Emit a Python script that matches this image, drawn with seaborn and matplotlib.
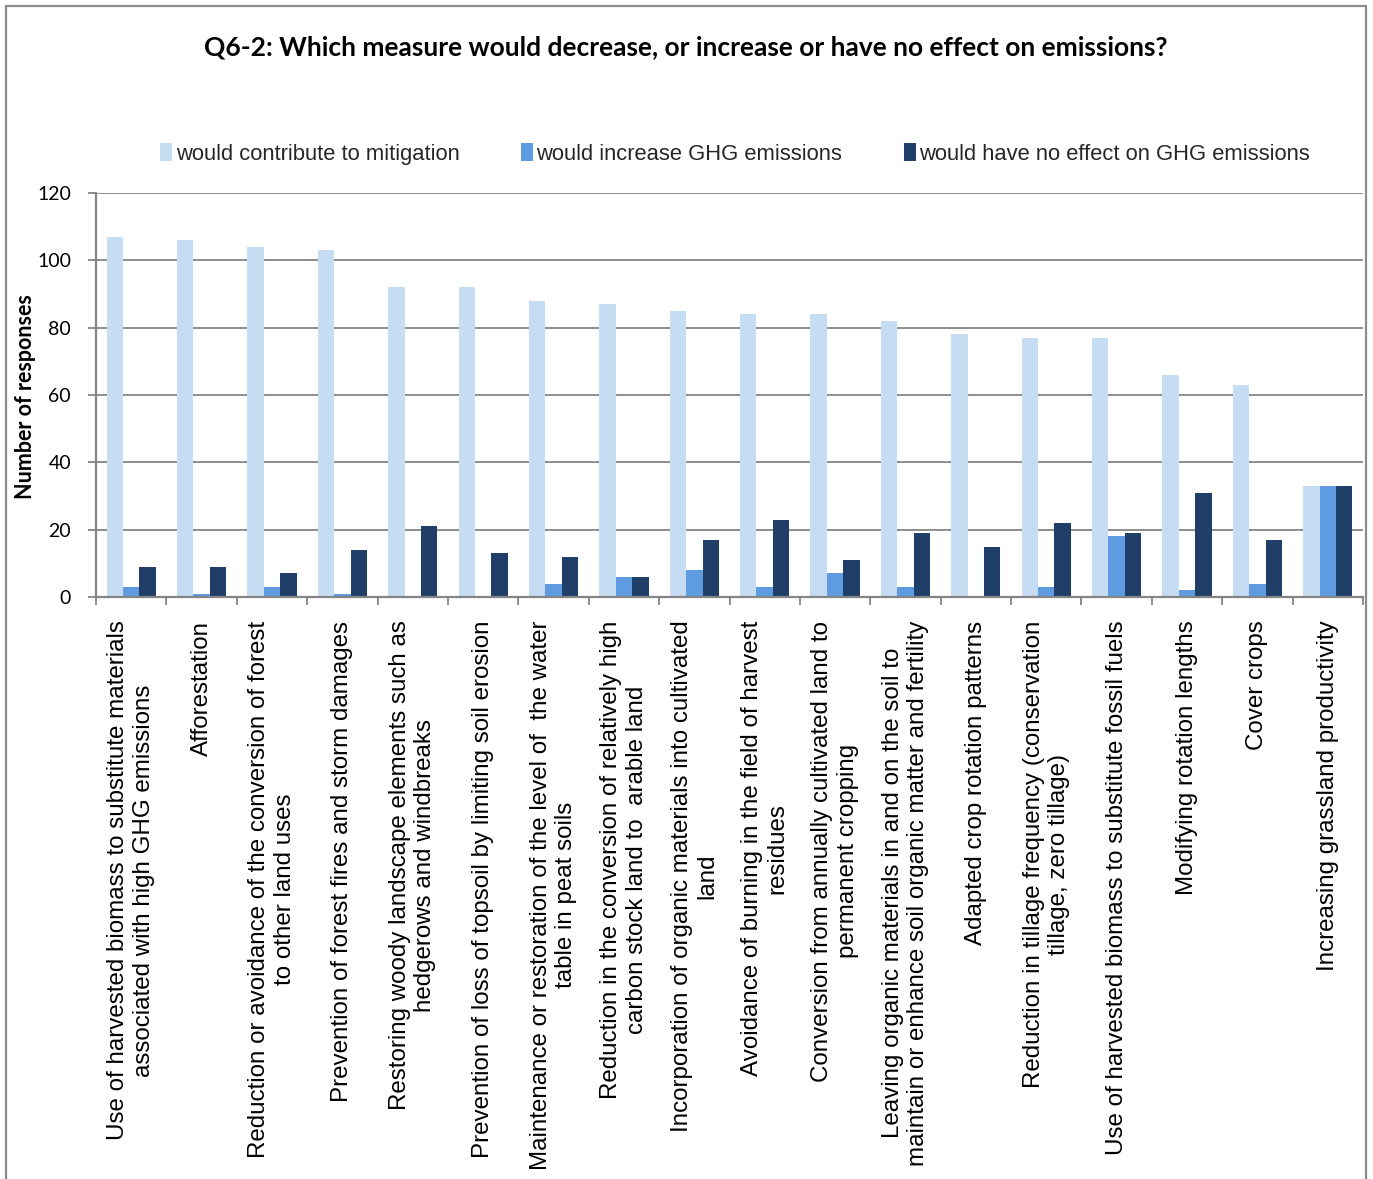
import matplotlib
matplotlib.use("Agg")
import matplotlib.pyplot as plt
from matplotlib.patches import Rectangle
from matplotlib.ticker import FixedLocator
import numpy as np
import pandas as pd
import seaborn as sns

# Survey measures (x-axis categories)
measures = [
    "Use of harvested biomass to substitute materials\nassociated with high GHG emissions",
    "Afforestation",
    "Reduction or avoidance of the conversion of forest\nto other land uses",
    "Prevention of forest fires and storm damages",
    "Restoring woody landscape elements such as\nhedgerows and windbreaks",
    "Prevention of loss of topsoil by limiting soil erosion",
    "Maintenance or restoration of the level of  the water\ntable in peat soils",
    "Reduction in the conversion of relatively high\ncarbon stock land to  arable land",
    "Incorporation of organic materials into cultivated\nland",
    "Avoidance of burning in the field of harvest\nresidues",
    "Conversion from annually cultivated land to\npermanent cropping",
    "Leaving organic materials in and on the soil to\nmaintain or enhance soil organic matter and fertility",
    "Adapted crop rotation patterns",
    "Reduction in tillage frequency (conservation\ntillage, zero tillage)",
    "Use of harvested biomass to substitute fossil fuels",
    "Modifying rotation lengths",
    "Cover crops",
    "Increasing grassland productivity",
]

series_names = [
    "would contribute to mitigation",
    "would increase GHG emissions",
    "would have no effect on GHG emissions",
]

mitigation = [107, 106, 104, 103, 92, 92, 88, 87, 85, 84, 84, 82, 78, 77, 77, 66, 63, 33]
increase = [3, 1, 3, 1, 0, 0, 4, 6, 8, 3, 7, 3, 0, 3, 18, 2, 4, 33]
no_effect = [9, 9, 7, 14, 21, 13, 12, 6, 17, 23, 11, 19, 15, 22, 19, 31, 17, 33]

y_ticks = [0, 20, 40, 60, 80, 100, 120]

series_colors = ["#C6DCF3", "#5E9BE0", "#1F3F69"]

df = pd.DataFrame({
    "measure": measures * 3,
    "response": [series_names[0]] * len(measures)
    + [series_names[1]] * len(measures)
    + [series_names[2]] * len(measures),
    "count": mitigation + increase + no_effect,
})

sns.set_theme(style="white")
plt.rcParams["font.family"] = ["Liberation Sans", "DejaVu Sans"]

W, H = 1373, 1179
fig = plt.figure(figsize=(W / 100, H / 100), dpi=100)
fig.patch.set_facecolor("white")

ax = fig.add_axes([96 / W, 1 - 597 / H, (1363 - 96) / W, (597 - 193) / H])
sns.barplot(
    data=df, x="measure", y="count", hue="response",
    hue_order=series_names, order=measures,
    palette=series_colors, saturation=1, width=0.7, gap=0,
    linewidth=0, ax=ax,
)

grid_c = "#858585"
ax.set_ylim(0, 120)
ax.set_xlim(-0.5, len(measures) - 0.5)
ax.set_yticks(y_ticks)
ax.yaxis.grid(True, color=grid_c, linewidth=1.3)
ax.xaxis.grid(False)
ax.set_axisbelow(True)

for side in ("top", "right"):
    ax.spines[side].set_visible(False)
for side in ("left", "bottom"):
    ax.spines[side].set_color(grid_c)
    ax.spines[side].set_linewidth(1.6)

ax.set_xlabel("")
ax.set_ylabel("")

# category separators on the x axis
ax.xaxis.set_minor_locator(FixedLocator(np.arange(-0.5, len(measures), 1.0)))
ax.tick_params(axis="x", which="minor", length=6, width=1.3, color=grid_c, direction="out", bottom=True)
ax.tick_params(axis="x", which="major", length=0, pad=17)
ax.tick_params(axis="y", which="major", length=6, width=1.3, color=grid_c, direction="out", left=True, pad=12)

ax.set_xticks(range(len(measures)))
ax.set_xticklabels(measures, rotation=90, ha="center", va="top",
                   multialignment="center", fontsize=17.4,
                   family=["Liberation Sans", "DejaVu Sans"], color="black")
for lbl in ax.get_yticklabels():
    lbl.set_fontfamily(["Lato", "DejaVu Sans"])
    lbl.set_fontsize(14)
    lbl.set_color("black")

handles, labels = ax.get_legend_handles_labels()
if ax.get_legend() is not None:
    ax.get_legend().remove()
fig.legend(
    handles, labels, loc="center", bbox_to_anchor=(735 / W, 1 - 154 / H),
    ncol=3, frameon=False, prop={"family": "Liberation Sans", "size": 15.8},
    handlelength=0.55, handleheight=0.9, handletextpad=0.15, columnspacing=2.8,
)

fig.text(686 / W, 1 - 47 / H,
         "Q6-2: Which measure would decrease, or increase or have no effect on emissions?",
         ha="center", va="center", fontsize=19, fontweight="bold",
         family=["Lato", "DejaVu Sans"], color="black")

fig.text(26 / W, 1 - 397 / H, "Number of responses", rotation=90,
         ha="center", va="center", fontsize=15.5, fontweight="bold",
         family=["Lato", "DejaVu Sans"], color="black")

# chart frame
fig.patches.append(Rectangle((6 / W, -0.02), (1366 - 6) / W, 1 - 6 / H + 0.02,
                             transform=fig.transFigure, fill=False,
                             edgecolor="#8C8C8C", linewidth=1.6))

fig.savefig("out.png", dpi=100, facecolor="white")
